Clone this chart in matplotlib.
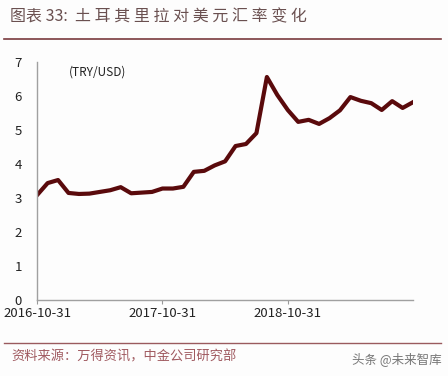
import matplotlib.pyplot as plt
from matplotlib.lines import Line2D

plt.rcParams['font.family'] = ['Noto Sans CJK SC', 'DejaVu Sans']

# 月度汇率 (TRY/USD), 2016-10 至 2019-10
months = ['2016-10-31', '2016-11-30', '2016-12-31', '2017-01-31', '2017-02-28', '2017-03-31',
          '2017-04-30', '2017-05-31', '2017-06-30', '2017-07-31', '2017-08-31', '2017-09-30',
          '2017-10-31', '2017-11-30', '2017-12-31', '2018-01-31', '2018-02-28', '2018-03-31',
          '2018-04-30', '2018-05-31', '2018-06-30', '2018-07-31', '2018-08-31', '2018-09-30',
          '2018-10-31', '2018-11-30', '2018-12-31', '2019-01-31', '2019-02-28', '2019-03-31',
          '2019-04-30', '2019-05-31', '2019-06-30', '2019-07-31', '2019-08-31', '2019-09-30',
          '2019-10-31']
rate = [3.09, 3.44, 3.53, 3.15, 3.12, 3.13, 3.18, 3.23, 3.32, 3.14, 3.16, 3.18,
        3.28, 3.28, 3.33, 3.77, 3.80, 3.96, 4.08, 4.53, 4.59, 4.91, 6.56, 6.03,
        5.59, 5.24, 5.30, 5.18, 5.35, 5.58, 5.97, 5.86, 5.79, 5.59, 5.85, 5.65,
        5.82]
tick_labels = ['2016-10-31', '2017-10-31', '2018-10-31']

fig = plt.figure(figsize=(4.48, 3.76), dpi=100, facecolor='#fdfdfd')
ax = fig.add_axes([0.083, 0.202, 0.839, 0.633])
ax.set_facecolor('#fdfdfd')

x = list(range(len(rate)))
ax.plot(x, rate, color='#5a0a0c', lw=3.0, solid_joinstyle='round')

ax.set_xlim(0, len(rate) - 1)
ax.set_ylim(0, 7)
ax.set_yticks(range(8))
ax.set_xticks([months.index(t) for t in tick_labels])
ax.set_xticklabels(tick_labels)
ax.tick_params(axis='y', length=0, pad=11, labelsize=9.5, colors='#222222')
ax.tick_params(axis='x', length=3, direction='out', color='#999999', labelsize=9.5,
               colors='#222222', pad=2)
for s in ['top', 'right']:
    ax.spines[s].set_visible(False)
for s in ['left', 'bottom']:
    ax.spines[s].set_color('#a0a0a0')
    ax.spines[s].set_linewidth(1.0)

ax.text(0.085, 0.985, '(TRY/USD)', transform=ax.transAxes, fontsize=8.5,
        color='#222222', va='top', ha='left')

# 标题和来源
fig.text(0.022, 0.955, '图表 33:  土 耳 其 里 拉 对 美 元 汇 率 变 化', fontsize=11.5,
         color='#6a5050', va='center', ha='left')
fig.add_artist(Line2D([0.01, 0.985], [0.897, 0.897], color='#7a3a3e', lw=1.2))
fig.add_artist(Line2D([0.01, 0.985], [0.087, 0.087], color='#9a5a5e', lw=1.0))
fig.text(0.025, 0.05, '资料来源：万得资讯，中金公司研究部', fontsize=9.5,
         color='#a05a60', va='center', ha='left')
fig.text(0.985, 0.045, '头条 @未来智库', fontsize=9, color='#555555',
         va='center', ha='right', alpha=0.8)

fig.savefig('out.png', dpi=100, facecolor=fig.get_facecolor())
